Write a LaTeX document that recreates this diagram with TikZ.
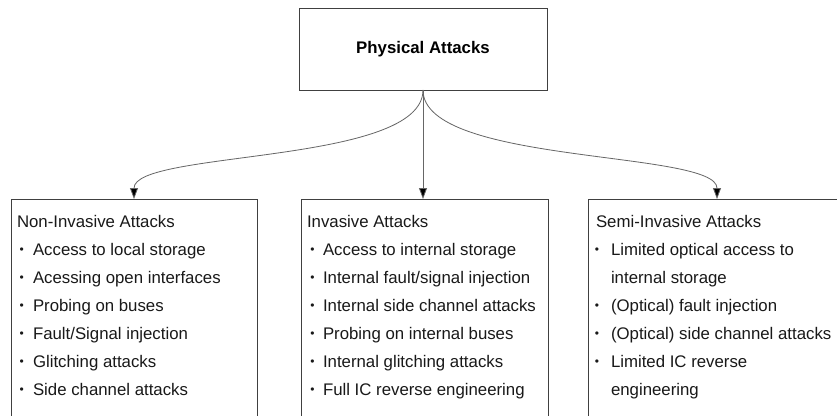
\documentclass[tikz,border=0pt]{standalone}
\usepackage{fontspec}
\setmainfont{Liberation Sans}
\usetikzlibrary{arrows.meta}
\newcommand{\smallbul}{\raisebox{1.8pt}{\fontsize{12}{14}\selectfont\textbullet}}
\begin{document}
\begin{tikzpicture}[x=1pt,y=-1pt,
  every node/.style={inner sep=0pt,outer sep=0pt},
  box/.style={draw=black!75,line width=1pt,rectangle,anchor=north west},
  txt/.style={anchor=base west,font=\fontsize{16.8}{20}\selectfont,text=black!90},
  bul/.style={anchor=base,font=\fontsize{16.8}{20}\selectfont,text=black!90},
  conn/.style={draw=black!60,line width=0.8pt,-{Triangle[length=11pt,width=8pt,fill=black]}}]
\useasboundingbox (0,0) rectangle (837,415);
\clip (0,0) rectangle (837,415);
\fill[white] (0,0) rectangle (837,415);
% top
\node[box,anchor=center,minimum width=248pt,minimum height=82pt,font=\fontsize{16.8}{20}\selectfont\bfseries] (top) at (423,49) {Physical Attacks};
% boxes
\node[box,minimum width=246pt,minimum height=240pt] (L) at (11,199) {};
\node[box,minimum width=247pt,minimum height=240pt] (M) at (301,199) {};
\node[box,minimum width=258pt,minimum height=240pt] (R) at (588,199) {};
% left text
\node[txt] (l0) at (17,227) {Non-Invasive Attacks};
\foreach \t [count=\i] in {Access to local storage,Acessing open interfaces,Probing on buses,Fault/Signal injection,Glitching attacks,Side channel attacks}{
  \node[bul] (lb\i) at (21.7,227+28.1*\i) {\smallbul};
  \node[txt] (l\i) at (33,227+28.1*\i) {\t};
}
% middle text
\node[txt] (m0) at (307,227) {Invasive Attacks};
\foreach \t [count=\i] in {Access to internal storage,Internal fault/signal injection,Internal side channel attacks,Probing on internal buses,Internal glitching attacks,Full IC reverse engineering}{
  \node[bul] (mb\i) at (312.5,227+28.1*\i) {\smallbul};
  \node[txt] (m\i) at (323,227+28.1*\i) {\t};
}
% right text
\node[txt] (r0) at (596,227) {Semi-Invasive Attacks};
\foreach \i in {1,3,4,5}{
  \node[bul] (rb\i) at (597,227+28.1*\i) {\smallbul};
}
\foreach \i/\t in {1/Limited optical access to,2/internal storage,3/(Optical) fault injection,4/(Optical) side channel attacks,5/Limited IC reverse,6/engineering}{
  \node[txt] (r\i) at (611,227+28.1*\i) {\t};
}
% connectors
\draw[conn] (top.south) .. controls (423,165) and (134,150) .. (L.north);
\draw[conn] (top.south) -- (top.south |- M.north);
\draw[conn] (top.south) .. controls (423,165) and (717,150) .. (R.north);
\end{tikzpicture}
\end{document}
